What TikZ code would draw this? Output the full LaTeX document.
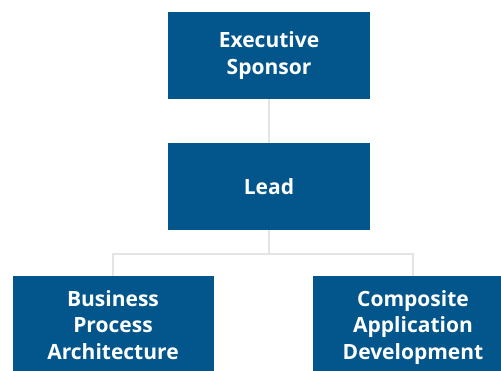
\documentclass[tikz,border=0pt]{standalone}
\usepackage{fontspec}
\setmainfont{Open Sans}
\usepackage{tikz}
\definecolor{orgblue}{RGB}{3,86,140}
\definecolor{orgline}{RGB}{228,228,228}

\begin{document}
\begin{tikzpicture}[x=1pt,y=1pt,
  box/.style={rectangle,fill=orgblue,text=white,align=center,inner sep=0pt,
    minimum width=202pt,minimum height=87pt,
    font=\fontsize{21}{26.5}\selectfont\bfseries},
  edge from parent/.style={draw=orgline,line width=2pt},
  edge from parent path={(\tikzparentnode.south) -- ++(0,-23.5) -| (\tikzchildnode.north)},
  level 1/.style={level distance=131pt},
  level 2/.style={level distance=142pt,sibling distance=300pt}]
\useasboundingbox (0,0) rectangle (501,-371);
\node [box] (sponsor) at (269,-55.5) {Executive\\Sponsor}
    child {
  node [box] (lead) {Lead}
    child {
  node [box,minimum width=201pt,minimum height=104pt,xshift=-6pt] (bpa) {Business\\Process\\Architecture\strut}
  }
    child {
  node [box,minimum width=201pt,minimum height=104pt,xshift=-6pt] (cad) {Composite\\Application\\Development\strut}
  }
  }
  ;
\end{tikzpicture}
\end{document}
